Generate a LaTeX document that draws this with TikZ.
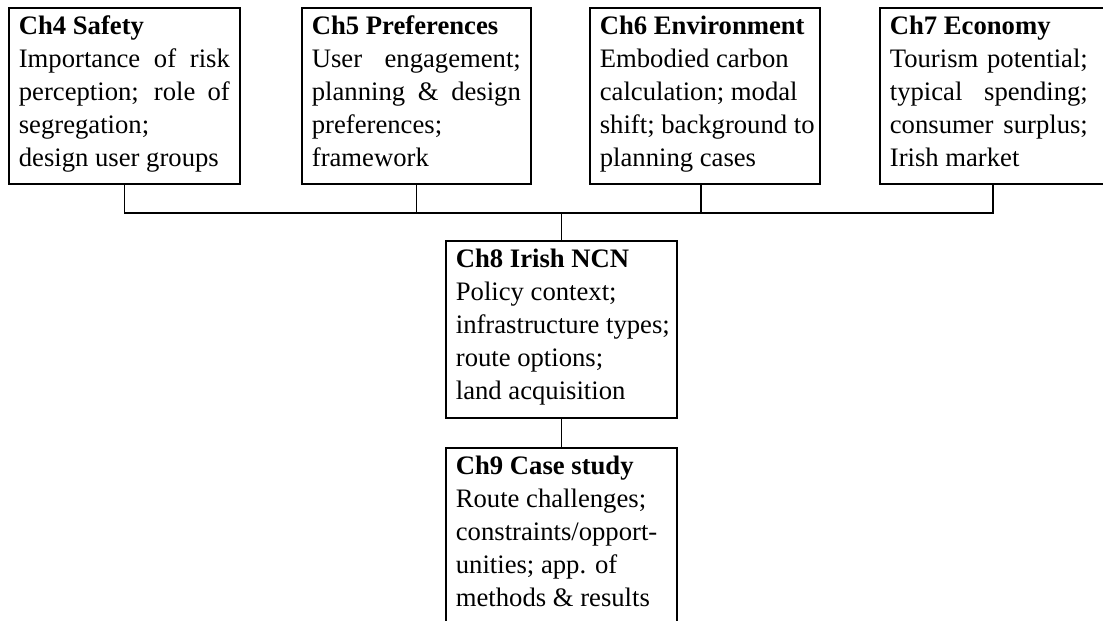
\documentclass[tikz,border=0pt]{standalone}
\usepackage{fontspec}
\setmainfont{Liberation Serif}
\newcommand{\bxc}[4]{\hspace*{7.5pt}\parbox[c][#2][t]{#1}{\fontsize{20pt}{24.75pt}\selectfont\raggedright\rule{0pt}{20.25pt}#4}\hspace*{#3}}
\newcommand{\jl}[1]{\makebox[\linewidth][s]{#1}}
\newcommand{\nl}[1]{\makebox[\linewidth][l]{#1}}
\begin{document}
\begin{tikzpicture}[x=0.75pt,y=-0.75pt,
  chbox/.style={draw=black,line width=1.3pt,inner sep=0pt,anchor=north west,fill=white},
  link/.style={draw=black,line width=1.2pt}]
\path[use as bounding box,clip] (0,0) rectangle (1103,621);
\fill[white] (0,0) rectangle (1103,621);

\node[chbox] (ch4) at (8,7) {\bxc{158.25pt}{132pt}{7.5pt}{\nl{\textbf{Ch4 Safety}}\\
\jl{Importance of risk}\\
\jl{perception; role of}\\
\nl{segregation;}\\
\nl{design user groups}}};

\node[chbox] (ch5) at (301,7) {\bxc{156.75pt}{132pt}{7.5pt}{\nl{\textbf{Ch5 Preferences}}\\
\jl{User engagement;}\\
\jl{planning \& design}\\
\nl{preferences;}\\
\nl{framework}}};

\node[chbox] (ch6) at (589,7) {\bxc{157.5pt}{132pt}{7.5pt}{\nl{\textbf{Ch6 Environment}}\\
\nl{Embodied carbon}\\
\nl{calculation; modal}\\
\nl{shift; background to}\\
\nl{planning cases}}};

\node[chbox] (ch7) at (879,7) {\bxc{148.5pt}{132pt}{13.5pt}{\nl{\textbf{Ch7 Economy}}\\
\jl{Tourism potential;}\\
\jl{typical spending;}\\
\jl{consumer surplus;}\\
\nl{Irish market}}};

\node[chbox] (ch8) at (445,240) {\bxc{158.25pt}{132.75pt}{7.5pt}{\nl{\textbf{Ch8 Irish NCN}}\\
\nl{Policy context;}\\
\nl{infrastructure types;}\\
\nl{route options;}\\
\nl{land acquisition}}};

\node[chbox] (ch9) at (445,447) {\bxc{158.25pt}{150pt}{7.5pt}{\nl{\textbf{Ch9 Case study}}\\
\nl{Route challenges;}\\
\nl{constraints/opport-}\\
\nl{unities; app. of}\\
\nl{methods \& results}}};

\coordinate (bus) at (0,213);
\draw[link] (ch4.south) -- (ch4.south |- bus) -- (ch7.south |- bus) -- (ch7.south);
\draw[link] (ch5.south) -- (ch5.south |- bus);
\draw[link] ([xshift=-3pt]ch6.south) -- ([xshift=-3pt]ch6.south |- bus);
\draw[link] (ch8.north) -- (ch8.north |- bus);
\draw[link] (ch8.south) -- (ch9.north);
\end{tikzpicture}
\end{document}
